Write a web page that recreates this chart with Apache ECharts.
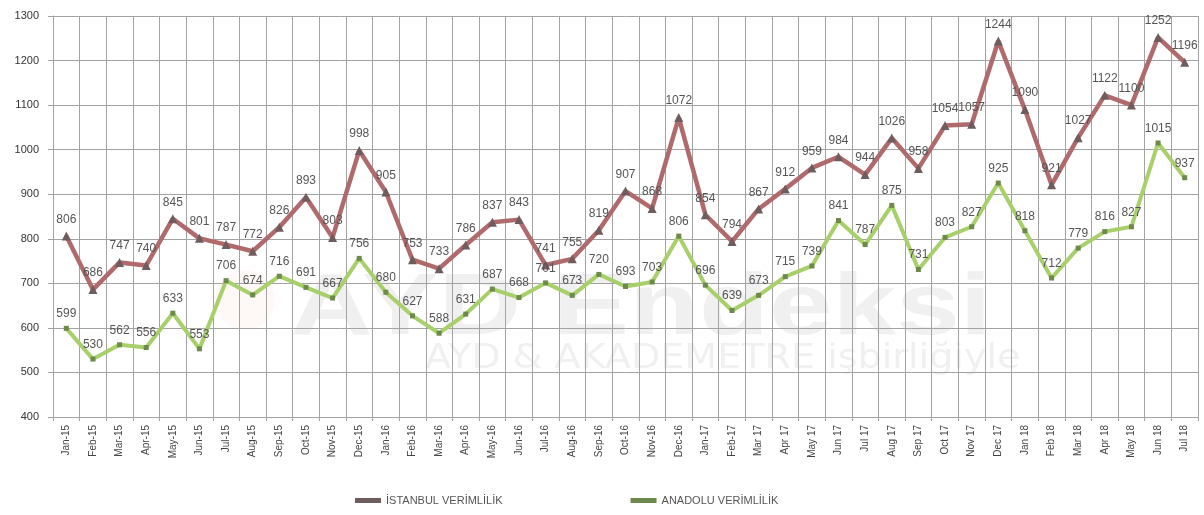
<!DOCTYPE html>
<html>
<head>
<meta charset="utf-8">
<script src="https://cdn.jsdelivr.net/npm/echarts@6/dist/echarts.min.js"></script>
<style>
  html, body { margin: 0; padding: 0; background: #fff; }
  #main { width: 1204px; height: 515px; }
</style>
</head>
<body>
<div id="main"></div>
<script>
// aylar
var months = [
  'Jan-15', 'Feb-15', 'Mar-15', 'Apr-15', 'May-15', 'Jun-15', 'Jul-15', 'Aug-15', 'Sep-15', 'Oct-15', 'Nov-15', 'Dec-15',
  'Jan-16', 'Feb-16', 'Mar-16', 'Apr-16', 'May-16', 'Jun-16', 'Jul-16', 'Aug-16', 'Sep-16', 'Oct-16', 'Nov-16', 'Dec-16',
  'Jan-17', 'Feb-17', 'Mar 17', 'Apr 17', 'May 17', 'Jun 17', 'Jul 17', 'Aug 17', 'Sep 17', 'Oct 17', 'Nov 17', 'Dec 17',
  'Jan 18', 'Feb 18', 'Mar 18', 'Apr 18', 'May 18', 'Jun 18', 'Jul 18'
]
var istanbul = [
  806, 686, 747, 740, 845, 801, 787, 772, 826, 893, 803, 998,
  905, 753, 733, 786, 837, 843, 741, 755, 819, 907, 868, 1072,
  854, 794, 867, 912, 959, 984, 944, 1026, 958, 1054, 1057, 1244,
  1090, 921, 1027, 1122, 1100, 1252, 1196
]
var anadolu = [
  599, 530, 562, 556, 633, 553, 706, 674, 716, 691, 667, 756,
  680, 627, 588, 631, 687, 668, 701, 673, 720, 693, 703, 806,
  696, 639, 673, 715, 739, 841, 787, 875, 731, 803, 827, 925,
  818, 712, 779, 816, 827, 1015, 937
]
var seriesNames = ['İSTANBUL VERİMLİLİK', 'ANADOLU VERİMLİLİK']
var yTicks = { min: 400, max: 1300, step: 100 }

var gridColor = '#a3a3a3'
var myChart = echarts.init(document.getElementById('main'))
myChart.setOption({
  animation: false,
  backgroundColor: '#fff',
  textStyle: { fontFamily: 'Liberation Sans, Arial, sans-serif' },
  // filigran
  graphic: [
    {
      type: 'text', left: 290, top: 266, z: -10, silent: true,
      scaleX: 1.3,
      style: { text: 'AYD Endeksi', fill: '#f0f0f0', font: 'bold 88px Liberation Sans' }
    },
    {
      type: 'text', left: 425, top: 342, z: -10, silent: true,
      scaleX: 1.12,
      style: { text: 'AYD & AKADEMETRE işbirliğiyle', fill: '#f0f0f0', font: '34px DejaVu Sans' }
    },
    {
      type: 'circle', z: -11, silent: true,
      shape: { cx: 245, cy: 300, r: 30 },
      style: { fill: 'rgba(240,170,150,0.08)' }
    }
  ],
  grid: { left: 53, right: 6, top: 16, bottom: 98 },
  legend: {
    bottom: 4,
    left: 350,
    itemGap: 128,
    itemWidth: 26,
    itemHeight: 5,
    icon: 'rect',
    textStyle: { fontSize: 11, color: '#555' },
    data: seriesNames
  },
  xAxis: {
    type: 'category',
    boundaryGap: true,
    data: months,
    axisLine: { lineStyle: { color: gridColor } },
    axisTick: { show: true, length: 4, lineStyle: { color: gridColor } },
    splitLine: { show: true, lineStyle: { color: gridColor, width: 1 } },
    axisLabel: { rotate: 90, fontSize: 10, color: '#444', interval: 0, margin: 8 }
  },
  yAxis: {
    type: 'value',
    min: yTicks.min,
    max: yTicks.max,
    interval: yTicks.step,
    axisLine: { show: true, lineStyle: { color: gridColor } },
    axisTick: { show: true, length: 5, lineStyle: { color: gridColor } },
    splitLine: { lineStyle: { color: gridColor, width: 1 } },
    axisLabel: { fontSize: 11, color: '#333', margin: 14, formatter: function (v) { return String(v) } }
  },
  series: [
    {
      name: seriesNames[0],
      type: 'line',
      data: istanbul,
      symbol: 'triangle',
      symbolSize: 9,
      color: '#a45e60',
      lineStyle: { color: '#b06a6c', width: 4.5 },
      itemStyle: { color: '#6f5d5e' },
      label: { show: true, position: 'top', distance: 6, fontSize: 12, color: '#555' }
    },
    {
      name: seriesNames[1],
      type: 'line',
      data: anadolu,
      symbol: 'rect',
      symbolSize: 5,
      color: '#9fcb63',
      lineStyle: { color: '#a7d06b', width: 4 },
      itemStyle: { color: '#6d8a4c' },
      label: { show: true, position: 'top', distance: 6, fontSize: 12, color: '#555' }
    }
  ]
})
</script>
</body>
</html>
